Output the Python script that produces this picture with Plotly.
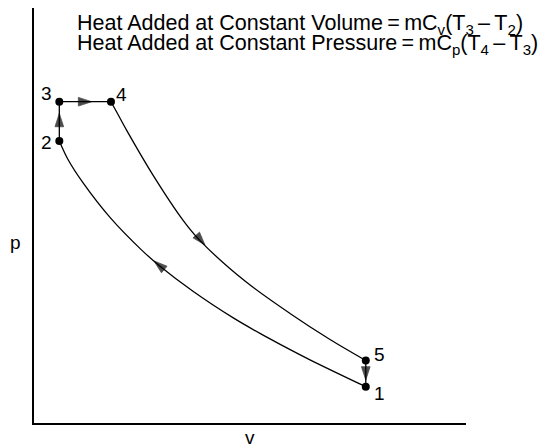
import plotly.graph_objects as go

# State points 1..5 of the dual combustion cycle (v, p in arbitrary units)
state_labels = ["1", "2", "3", "4", "5"]
state_v = [7.68, 0.586, 0.586, 1.782, 7.68]
state_p = [0.875, 6.795, 7.742, 7.742, 1.506]

# label positions for the state numbers
label_v = [7.99, 0.29, 0.30, 2.02, 7.99]
label_p = [0.72, 6.77, 7.95, 7.92, 1.64]

# compression curve 1 -> 2 (listed from 2 to 1)
comp_v = [0.586, 0.787, 1.141, 1.759, 2.493, 2.917, 3.688, 4.613, 5.231, 5.655, 6.389, 7.68]
comp_p = [6.795, 6.349, 5.778, 4.954, 4.166, 3.778, 3.169, 2.533, 2.159, 1.920, 1.523, 0.875]

# expansion curve 4 -> 5
exp_v = [1.782, 1.914, 2.146, 2.762, 3.456, 3.843, 4.884, 5.926, 6.852, 7.68]
exp_p = [7.742, 7.494, 7.051, 5.961, 4.877, 4.395, 3.419, 2.639, 2.012, 1.506]

# direction arrows: tail and tip of each (2->3, 3->4, 4->5, 5->1, 1->2)
arrow_tail_v = [0.586, 0.95, 3.727, 7.68, 3.148]
arrow_tail_p = [7.05, 7.742, 4.564, 1.40, 3.583]
arrow_tip_v = [0.586, 1.335, 3.958, 7.68, 2.778]
arrow_tip_p = [7.46, 7.742, 4.289, 1.036, 3.904]

line1 = "Heat Added at Constant Volume\u2009=\u2009mC<sub>v</sub>(T<sub>3</sub>\u2009\u2013\u2009T<sub>2</sub>)"
line2 = "Heat Added at Constant Pressure\u2009=\u2009mC<sub>p</sub>(T<sub>4</sub>\u2009\u2013\u2009T<sub>3</sub>)"

FONT = "Liberation Sans, Arial, sans-serif"
LW = 1.3

fig = go.Figure()
fig.add_trace(go.Scatter(x=comp_v, y=comp_p, mode="lines",
                         line=dict(color="black", width=LW, shape="spline", smoothing=0.9)))
fig.add_trace(go.Scatter(x=exp_v, y=exp_p, mode="lines",
                         line=dict(color="black", width=LW, shape="spline", smoothing=0.9)))
fig.add_trace(go.Scatter(x=[state_v[1], state_v[2], state_v[3]],
                         y=[state_p[1], state_p[2], state_p[3]], mode="lines",
                         line=dict(color="black", width=LW)))
fig.add_trace(go.Scatter(x=[state_v[4], state_v[0]], y=[state_p[4], state_p[0]], mode="lines",
                         line=dict(color="black", width=LW)))

ax, ay, sz = [], [], []
for tv, tp, hv, hp in zip(arrow_tail_v, arrow_tail_p, arrow_tip_v, arrow_tip_p):
    ax += [tv, hv, None]
    ay += [tp, hp, None]
    sz += [0, 14, 0]
fig.add_trace(go.Scatter(x=ax, y=ay, mode="markers",
                         marker=dict(symbol="arrow", angleref="previous", size=sz,
                                     color="black", line=dict(width=0.8, color="black"))))

fig.add_trace(go.Scatter(x=state_v, y=state_p, mode="markers",
                         marker=dict(size=8, color="black")))

for t, v, p in zip(state_labels, label_v, label_p):
    fig.add_annotation(x=v, y=p, text=t, showarrow=False,
                       font=dict(family=FONT, size=19, color="black"))

fig.add_annotation(xref="paper", yref="paper", x=0.094, y=0.998, text=line1,
                   showarrow=False, xanchor="left", yanchor="top",
                   font=dict(family=FONT, size=21.5, color="black"))
fig.add_annotation(xref="paper", yref="paper", x=0.094, y=0.949, text=line2,
                   showarrow=False, xanchor="left", yanchor="top",
                   font=dict(family=FONT, size=21.5, color="black"))

fig.add_annotation(xref="paper", yref="paper", x=-0.060, y=0.435, text="p",
                   showarrow=False, xanchor="left", yanchor="middle",
                   font=dict(family=FONT, size=19, color="black"))
fig.add_annotation(xref="paper", yref="paper", x=0.50, y=-0.034, text="v",
                   showarrow=False, xanchor="center", yanchor="middle",
                   font=dict(family=FONT, size=19, color="black"))

axis_style = dict(showline=True, linecolor="black", linewidth=1.5, showgrid=False,
                  zeroline=False, showticklabels=False, ticks="", range=[0, 10],
                  fixedrange=True)
fig.update_layout(width=546, height=446, margin=dict(l=26, r=88, t=0, b=31),
                  paper_bgcolor="white", plot_bgcolor="white", showlegend=False,
                  xaxis=axis_style, yaxis=axis_style)

fig.write_html("out.html")
